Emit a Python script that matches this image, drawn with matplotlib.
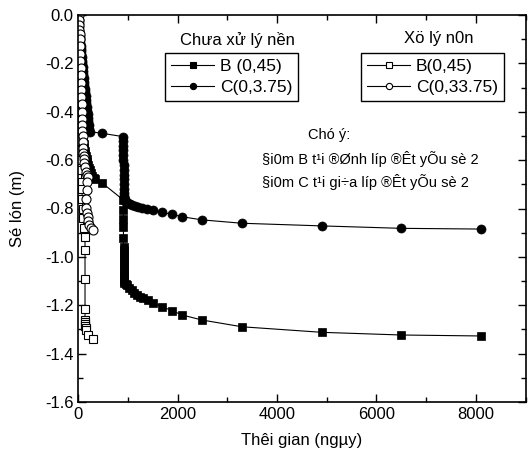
import matplotlib
matplotlib.use("Agg")
import matplotlib.pyplot as plt
from matplotlib.lines import Line2D
from matplotlib.ticker import MultipleLocator, FuncFormatter

plt.rcParams['font.family'] = ['Liberation Sans', 'DejaVu Sans']

# ---- data: time (days) and settlement (m) ----
# Untreated, point B (filled squares)
t_B_un = [0, 3, 6, 9, 12, 15, 18, 21, 24, 27, 30, 34, 38, 42, 46, 50, 55, 60, 65, 70,
          75, 80, 85, 90, 100, 110, 120, 130, 140, 155, 169, 185, 200, 220, 236, 260,
          285, 310, 337, 471, 907, 907, 907, 908, 909, 910, 911, 912, 913, 914, 915,
          916, 917, 918, 919, 920, 922, 925, 950, 975, 1020, 1076, 1130, 1177, 1240,
          1310, 1400, 1500, 1681, 1883, 2085, 2488, 3294, 4907, 6500, 8100]
v_B_un = [0, -0.02, -0.045, -0.07, -0.095, -0.12, -0.145, -0.17, -0.195, -0.22, -0.245,
          -0.27, -0.295, -0.32, -0.345, -0.37, -0.39, -0.41, -0.43, -0.45, -0.465,
          -0.48, -0.492, -0.503, -0.52, -0.535, -0.55, -0.562, -0.574, -0.585, -0.596,
          -0.608, -0.62, -0.632, -0.641, -0.655, -0.666, -0.673, -0.679, -0.693, -0.765,
          -0.806, -0.845, -0.878, -0.923, -0.958, -0.972, -0.986, -1.0, -1.014, -1.028,
          -1.042, -1.056, -1.07, -1.082, -1.092, -1.1, -1.106, -1.112, -1.118, -1.127,
          -1.137, -1.148, -1.157, -1.164, -1.171, -1.18, -1.19, -1.206, -1.222, -1.24,
          -1.261, -1.289, -1.312, -1.323, -1.327]

# Untreated, point C (filled circles)
t_C_un = [0, 3, 6, 10, 14, 18, 22, 26, 30, 35, 40, 45, 50, 55, 60, 66, 72, 78, 85, 92,
          100, 108, 116, 124, 132, 140, 148, 156, 164, 172, 180, 188, 196, 204, 214,
          225, 236, 471, 907, 907, 908, 908, 909, 909, 910, 910, 911, 912, 913, 914,
          916, 918, 930, 942, 970, 1000, 1042, 1090, 1143, 1200, 1278, 1380, 1500,
          1681, 1883, 2085, 2488, 3294, 4907, 6500, 8100]
v_C_un = [0, -0.01, -0.02, -0.035, -0.05, -0.065, -0.075, -0.085, -0.095, -0.105,
          -0.115, -0.13, -0.14, -0.15, -0.16, -0.175, -0.19, -0.2, -0.215, -0.23,
          -0.245, -0.26, -0.275, -0.29, -0.305, -0.32, -0.335, -0.35, -0.365, -0.38,
          -0.395, -0.41, -0.425, -0.44, -0.455, -0.47, -0.482, -0.489, -0.503, -0.52,
          -0.54, -0.56, -0.58, -0.6, -0.62, -0.64, -0.66, -0.68, -0.7, -0.72, -0.735,
          -0.75, -0.762, -0.77, -0.775, -0.778, -0.782, -0.786, -0.79, -0.794, -0.799,
          -0.803, -0.807, -0.815, -0.824, -0.834, -0.847, -0.861, -0.872, -0.882, -0.885]

# Treated, point B (open squares)
t_B_tr = [0, 4, 8, 12, 16, 20, 24, 28, 32, 36, 40, 44, 48, 52, 56, 60, 64, 68, 72,
          80, 88, 98, 115, 135, 135, 135, 135, 135, 137, 139, 141, 145, 160, 202, 302]
v_B_tr = [0, -0.04, -0.08, -0.12, -0.16, -0.2, -0.24, -0.28, -0.32, -0.36, -0.4,
          -0.44, -0.48, -0.52, -0.56, -0.6, -0.64, -0.689, -0.72, -0.76, -0.80, -0.84,
          -0.88, -0.916, -0.971, -1.093, -1.215, -1.262, -1.27, -1.278, -1.286, -1.294,
          -1.302, -1.323, -1.341]

# Treated, point C (open circles)
t_C_tr = [10, 14, 18, 22, 26, 30, 34, 38, 42, 46, 50, 54, 58, 62, 66, 70, 74, 78, 82,
          86, 90, 95, 100, 106, 112, 120, 135, 150, 170, 200, 185, 170, 160, 165, 175,
          190, 205, 225, 250, 302]
v_C_tr = [0, -0.02, -0.04, -0.06, -0.08, -0.1, -0.13, -0.16, -0.19, -0.22, -0.25,
          -0.28, -0.31, -0.34, -0.37, -0.4, -0.43, -0.455, -0.48, -0.5, -0.525, -0.55,
          -0.57, -0.585, -0.597, -0.612, -0.63, -0.648, -0.66, -0.67, -0.69, -0.723,
          -0.76, -0.798, -0.82, -0.834, -0.85, -0.868, -0.88, -0.889]

lab_B_un = "B (0,45)"
lab_C_un = "C(0,3.75)"
lab_B_tr = "B(0,45)"
lab_C_tr = "C(0,33.75)"
title_un = "Chưa xử lý nền"
title_tr = "Xö lý n0n"
note_lines = ["Chó ý:", "§i0m B t¹i ®Ønh líp ®Êt yÕu sè 2",
              "§i0m C t¹i gi÷a líp ®Êt yÕu sè 2"]
xlabel = "Thêi gian (ngµy)"
ylabel = "Sé lón (m)"

W, H = 528, 466
fig = plt.figure(figsize=(W / 100, H / 100), dpi=100)
ax = fig.add_axes([78.3 / W, 1 - 402 / H, (525.5 - 78.3) / W, (402 - 15) / H])

lw = 0.8
ax.plot(t_B_un, v_B_un, color='black', lw=lw, marker='s', ms=6, mfc='black', mec='black', mew=0.5)
ax.plot(t_C_un, v_C_un, color='black', lw=lw, marker='o', ms=6.5, mfc='black', mec='black', mew=0.5)
ax.plot(t_B_tr, v_B_tr, color='black', lw=lw, marker='s', ms=6, mfc='white', mec='black', mew=0.8)
ax.plot(t_C_tr, v_C_tr, color='black', lw=lw, marker='o', ms=6.5, mfc='white', mec='black', mew=0.8)

ax.set_xlim(0, 9000)
ax.set_ylim(-1.6, 0.0)
ax.xaxis.set_major_locator(MultipleLocator(2000))
ax.xaxis.set_minor_locator(MultipleLocator(1000))
ax.yaxis.set_major_locator(MultipleLocator(0.2))
ax.yaxis.set_minor_locator(MultipleLocator(0.1))
ax.yaxis.set_major_formatter(FuncFormatter(lambda v, p: ("%.1f" % v) if abs(v) > 1e-9 else "0.0"))
ax.xaxis.set_major_formatter(FuncFormatter(lambda v, p: "%d" % round(v) if v < 8500 else ""))
ax.tick_params(which='both', direction='in', top=True, right=True, labelsize=12, colors='black')
ax.tick_params(which='major', length=6, width=1)
ax.tick_params(which='minor', length=3.5, width=1)
for s in ax.spines.values():
    s.set_linewidth(1.2)

ax.set_xlabel(xlabel, fontsize=12, labelpad=8)
ax.set_ylabel(ylabel, fontsize=12, labelpad=14)

def mk_handle(marker, face):
    return Line2D([], [], color='black', lw=0.8, marker=marker, ms=4.5, mfc=face, mec='black', mew=0.8)

leg_kw = dict(loc='upper left', bbox_transform=fig.transFigure, borderaxespad=0,
              fontsize=12.5, handlelength=2.5, handletextpad=0.3, labelspacing=0.3,
              borderpad=0.35, fancybox=False, framealpha=1, edgecolor='black')
leg1 = ax.legend([mk_handle('s', 'black'), mk_handle('o', 'black')], [lab_B_un, lab_C_un],
                 bbox_to_anchor=(165 / W, 1 - 53 / H), **leg_kw)
leg1.get_frame().set_linewidth(1.0)
ax.add_artist(leg1)
leg2 = ax.legend([mk_handle('s', 'white'), mk_handle('o', 'white')], [lab_B_tr, lab_C_tr],
                 bbox_to_anchor=(361 / W, 1 - 53 / H), **leg_kw)
leg2.get_frame().set_linewidth(1.0)

fig.text(237.5 / W, 1 - 40 / H, title_un, ha='center', va='center', fontsize=12)
fig.text(439 / W, 1 - 39 / H, title_tr, ha='center', va='center', fontsize=12)
fig.text(329 / W, 1 - 135 / H, note_lines[0], ha='center', va='center', fontsize=10.5)
fig.text(262 / W, 1 - 159 / H, note_lines[1], ha='left', va='center', fontsize=10.5)
fig.text(262 / W, 1 - 182 / H, note_lines[2], ha='left', va='center', fontsize=10.5)

fig.savefig("out.png", dpi=100)
